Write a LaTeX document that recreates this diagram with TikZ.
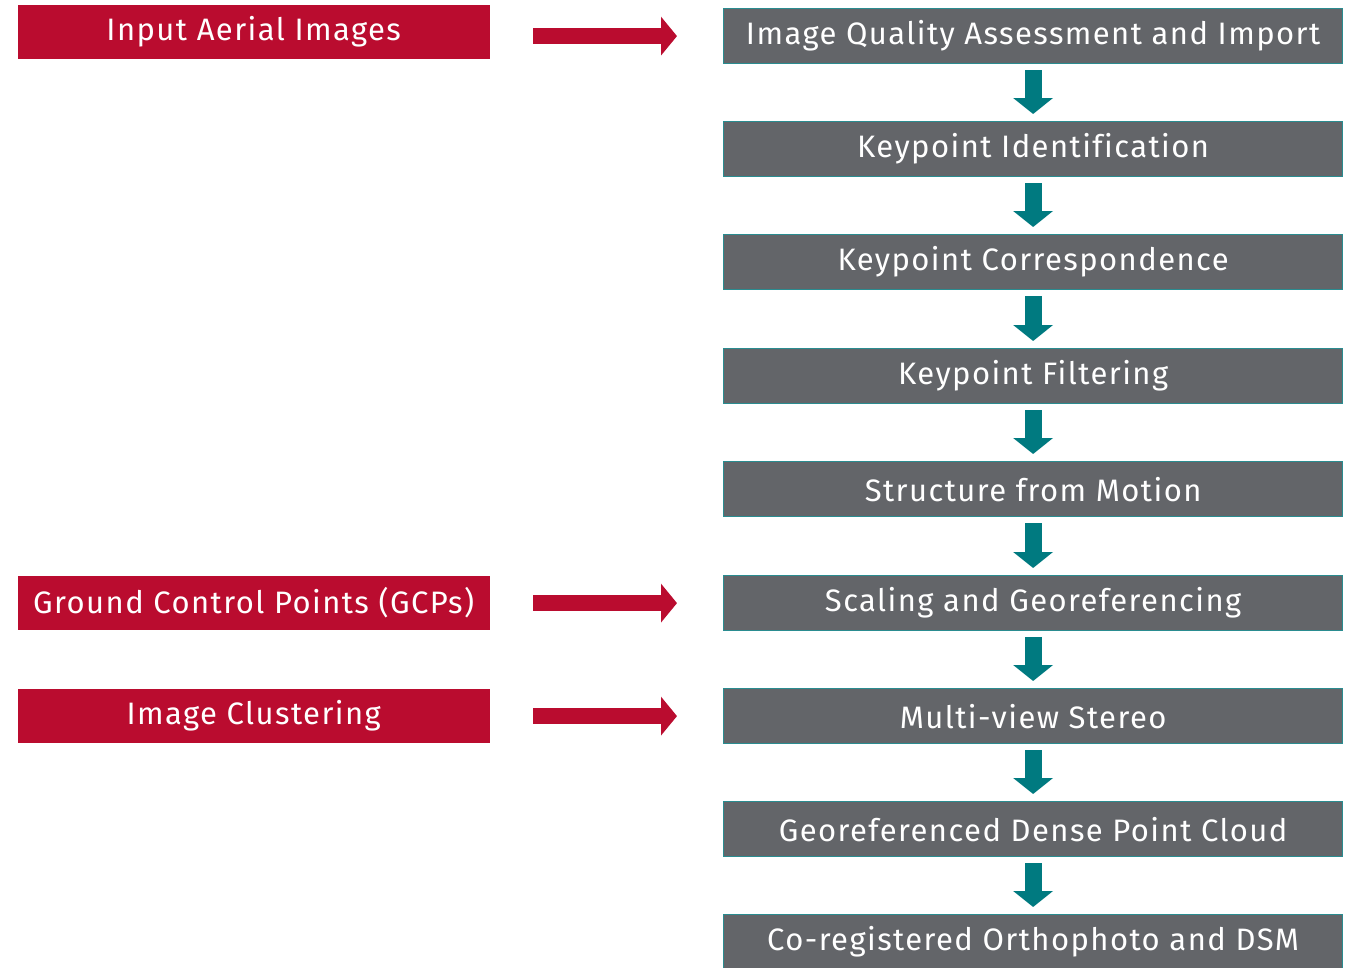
\documentclass[tikz,border=0pt]{standalone}
\usepackage{fontspec}
\setmainfont{Fira Sans}[LetterSpace=4.6,Ligatures=NoCommon]
\usetikzlibrary{arrows.meta}
\definecolor{cred}{HTML}{BA0C2F}
\definecolor{cgray}{HTML}{636569}
\definecolor{cedge}{HTML}{2A8C90}
\definecolor{carrow}{HTML}{007A80}
\begin{document}
\begin{tikzpicture}[x=1pt,y=-1pt,
  fs/.style={font=\fontsize{31}{34}\selectfont},
  inbox/.style={fs,fill=cred,draw=cred,text=white,minimum width=471pt,minimum height=53pt,inner sep=0pt,anchor=north west},
  stepbox/.style={fs,fill=cgray,draw=cedge,line width=1.2pt,text=white,minimum width=619pt,minimum height=55pt,inner sep=0pt,anchor=north west},
  redarr/.style={draw=cred,line width=16pt,-{Triangle[width=38pt,length=16pt]},shorten <=44pt,shorten >=46pt},
  tealarr/.style={draw=carrow,line width=17pt,-{Triangle[width=39pt,length=16pt]},shorten <=6pt,shorten >=7pt}]
\useasboundingbox[fill=white] (0,0) rectangle (1352,967);
\node[inbox] (in1) at (18,5) {Input Aerial Images};
\node[inbox] (in2) at (18,576) {Ground Control Points (GCPs)};
\node[inbox] (in3) at (18,689) {Image Clustering};
\node[stepbox] (g1) at (723,8) {Image Quality Assessment and Import};
\node[stepbox] (g2) at (723,121) {Keypoint Identification};
\node[stepbox] (g3) at (723,234) {Keypoint Correspondence};
\node[stepbox] (g4) at (723,348) {Keypoint Filtering};
\node[stepbox] (g5) at (723,461) {Structure from Motion};
\node[stepbox] (g6) at (723,575) {Scaling and Georeferencing};
\node[stepbox] (g7) at (723,688) {Multi-view Stereo};
\node[stepbox] (g8) at (723,801) {Georeferenced Dense Point Cloud};
\node[stepbox] (g9) at (723,914) {Co-registered Orthophoto and DSM};
\draw[redarr] (in1.east |- g1.west) -- (g1.west);
\draw[redarr] (in2.east |- g6.west) -- (g6.west);
\draw[redarr] (in3.east |- g7.west) -- (g7.west);
\foreach \a/\b in {g1/g2,g2/g3,g3/g4,g4/g5,g5/g6,g6/g7,g7/g8,g8/g9}
  \draw[tealarr] (\a.south) -- (\b.north);
\end{tikzpicture}
\end{document}
